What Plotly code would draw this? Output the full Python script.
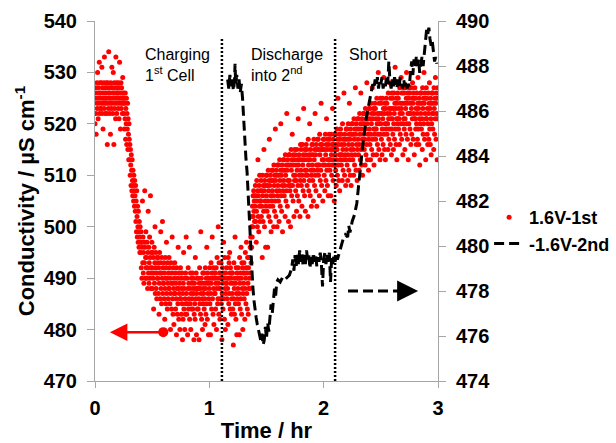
import plotly.graph_objects as go

# ---------------- data ----------------
# Conductivity of the 1st cell (left axis, µS cm-1), one reading every 0.0025 hr
red_time_step = 0.0025
red_values = [
    520, 525, 527, 522, 518, 526, 524, 528, 523, 530, 525, 521, 527, 524, 526, 532, 522, 528, 525, 523,
    526, 523, 528, 524, 531, 522, 527, 525, 519, 526, 524, 528, 523, 533, 525, 527, 522, 526, 524, 528,
    525, 522, 527, 516, 524, 528, 526, 523, 534, 525, 527, 522, 526, 524, 518, 528, 525, 523, 527, 531,
    524, 527, 522, 526, 530, 525, 516, 528, 523, 526, 524, 527, 521, 533, 525, 528, 522, 526, 524, 527,
    526, 523, 528, 525, 521, 527, 532, 524, 526, 519, 525, 528, 523, 527, 524, 526, 522, 529, 525, 524,
    526, 522, 525, 519, 524, 521, 526, 517, 523, 520, 525, 516, 522, 519, 524, 515, 521, 518, 513, 520,
    517, 513, 516, 510, 515, 512, 508, 514, 511, 507, 513, 509, 506, 511, 508, 505, 510, 507, 504, 509,
    506, 503, 508, 501, 505, 499, 507, 502, 498, 504, 500, 497, 503, 499, 496, 501, 498, 495, 500, 497,
    495, 499, 492, 497, 490, 496, 505, 493, 498, 491, 495, 489, 497, 493, 507, 496, 490, 494, 499, 492,
    494, 490, 497, 492, 488, 495, 503, 491, 496, 489, 493, 498, 490, 494, 506, 492, 488, 495, 491, 497,
    492, 488, 495, 490, 494, 484, 491, 496, 489, 493, 500, 487, 492, 495, 488, 491, 486, 494, 490, 493,
    490, 494, 487, 492, 483, 489, 495, 491, 486, 493, 499, 488, 491, 485, 494, 490, 501, 487, 492, 489,
    489, 493, 486, 491, 482, 488, 494, 490, 485, 492, 497, 487, 490, 484, 493, 489, 486, 491, 488, 494,
    488, 492, 485, 490, 480, 487, 493, 489, 484, 491, 498, 486, 489, 483, 492, 488, 481, 490, 487, 493,
    487, 491, 484, 489, 486, 479, 492, 488, 483, 490, 485, 496, 488, 482, 491, 487, 489, 480, 486, 492,
    486, 490, 483, 488, 491, 485, 478, 487, 482, 489, 495, 484, 488, 490, 480, 486, 483, 491, 485, 498,
    487, 483, 490, 485, 479, 488, 492, 484, 489, 486, 496, 482, 488, 485, 491, 480, 487, 490, 484, 489,
    486, 491, 484, 488, 490, 487, 478, 483, 489, 485, 482, 494, 488, 486, 491, 479, 487, 490, 484, 488,
    488, 484, 490, 486, 478, 489, 492, 485, 488, 483, 499, 487, 490, 482, 489, 486, 480, 491, 485, 488,
    487, 491, 484, 489, 486, 481, 492, 488, 483, 490, 485, 496, 489, 482, 491, 487, 490, 479, 486, 489,
    488, 492, 485, 490, 479, 487, 493, 489, 484, 491, 498, 486, 490, 483, 492, 488, 481, 491, 487, 490,
    487, 491, 484, 489, 492, 480, 488, 494, 490, 485, 486, 500, 489, 483, 493, 488, 491, 482, 486, 490,
    488, 493, 485, 490, 478, 487, 492, 489, 484, 491, 497, 486, 490, 482, 494, 488, 480, 491, 487, 489,
    489, 492, 486, 490, 488, 481, 494, 490, 485, 493, 487, 495, 491, 484, 492, 489, 490, 483, 486, 491,
    487, 491, 484, 489, 477, 486, 493, 488, 483, 490, 498, 485, 489, 482, 492, 487, 479, 491, 486, 490,
    488, 492, 485, 490, 487, 479, 494, 489, 484, 491, 486, 496, 490, 483, 493, 488, 492, 480, 487, 491,
    489, 493, 486, 491, 482, 488, 495, 490, 485, 492, 497, 487, 491, 484, 494, 489, 483, 492, 488, 494,
    490, 494, 488, 496, 491, 498, 493, 500, 496, 502, 498, 504, 500, 506, 502, 507, 503, 505, 501, 506,
    504, 508, 501, 506, 497, 503, 509, 505, 500, 507, 513, 502, 506, 499, 508, 504, 510, 501, 505, 507,
    505, 509, 502, 507, 504, 494, 510, 506, 501, 508, 503, 515, 507, 500, 509, 505, 508, 496, 504, 510,
    506, 510, 503, 508, 496, 505, 511, 507, 502, 509, 517, 504, 508, 501, 510, 506, 499, 509, 505, 511,
    507, 511, 504, 509, 506, 500, 512, 508, 503, 510, 505, 519, 509, 502, 511, 507, 510, 500, 506, 512,
    508, 512, 505, 510, 501, 507, 513, 509, 504, 511, 520, 506, 510, 503, 512, 508, 499, 511, 507, 513,
    509, 513, 506, 511, 508, 502, 514, 510, 505, 512, 507, 522, 511, 504, 513, 509, 512, 501, 508, 514,
    509, 514, 507, 512, 500, 508, 515, 511, 506, 513, 518, 508, 512, 505, 514, 510, 502, 513, 509, 515,
    510, 514, 507, 512, 509, 503, 515, 511, 506, 513, 508, 521, 512, 505, 514, 510, 513, 502, 509, 516,
    511, 515, 508, 513, 504, 510, 516, 512, 507, 514, 523, 509, 513, 506, 515, 511, 503, 514, 510, 516,
    511, 515, 508, 513, 510, 502, 517, 512, 507, 514, 509, 520, 513, 506, 515, 511, 514, 504, 510, 516,
    512, 516, 509, 514, 505, 511, 517, 513, 508, 515, 522, 510, 514, 507, 516, 512, 504, 515, 511, 517,
    512, 517, 510, 515, 512, 506, 518, 514, 509, 516, 511, 524, 515, 508, 516, 513, 515, 505, 512, 517,
    513, 517, 510, 515, 507, 512, 518, 514, 509, 516, 521, 511, 515, 508, 517, 513, 506, 516, 512, 518,
    513, 517, 511, 515, 513, 506, 518, 514, 510, 516, 512, 523, 515, 509, 517, 513, 516, 505, 512, 518,
    514, 518, 511, 516, 508, 513, 519, 515, 510, 517, 525, 512, 516, 509, 518, 514, 507, 517, 513, 519,
    514, 518, 512, 516, 514, 509, 520, 515, 511, 517, 513, 526, 516, 510, 518, 514, 517, 508, 513, 519,
    515, 519, 512, 517, 509, 514, 520, 516, 511, 518, 524, 513, 517, 510, 519, 515, 508, 518, 514, 520,
    516, 520, 513, 518, 515, 510, 521, 517, 512, 519, 514, 527, 518, 511, 520, 516, 519, 509, 515, 521,
    517, 521, 514, 519, 511, 516, 522, 518, 513, 520, 526, 515, 519, 512, 521, 517, 510, 520, 516, 522,
    518, 522, 515, 520, 517, 512, 523, 519, 514, 521, 516, 528, 520, 513, 522, 518, 521, 511, 517, 523,
    519, 523, 516, 521, 513, 518, 524, 520, 515, 522, 527, 517, 521, 514, 523, 519, 512, 522, 518, 524,
    519, 523, 517, 521, 519, 514, 525, 520, 516, 522, 518, 530, 521, 515, 524, 520, 522, 513, 518, 525,
    520, 524, 517, 522, 514, 519, 525, 521, 516, 523, 529, 518, 522, 515, 524, 520, 513, 523, 519, 525,
    520, 524, 518, 522, 520, 515, 526, 521, 517, 523, 519, 528, 522, 516, 525, 521, 523, 514, 519, 526,
    521, 525, 518, 523, 515, 520, 526, 522, 517, 524, 531, 519, 523, 516, 525, 521, 513, 524, 520, 526,
    521, 525, 519, 523, 521, 516, 527, 522, 518, 524, 520, 529, 523, 517, 526, 522, 524, 514, 520, 527,
    521, 526, 519, 524, 515, 521, 527, 523, 518, 525, 530, 520, 524, 517, 526, 522, 513, 525, 520, 527,
    522, 526, 519, 524, 522, 516, 527, 523, 518, 525, 521, 528, 524, 517, 526, 522, 525, 514, 521, 527,
    521, 525, 519, 523, 516, 520, 526, 522, 517, 524, 529, 519, 523, 516, 525, 521, 512, 524, 520, 526,
    522, 526, 519, 524, 521, 515, 527, 523, 518, 525, 520, 530, 524, 517, 526, 522, 525, 513, 521, 527,
    521, 525, 518, 523, 516, 520, 526, 522, 517, 524, 528, 519, 523, 516, 525, 521, 514, 524, 520, 526,
    522, 526, 519, 524, 522, 515, 527, 523, 518, 525, 521, 529, 524, 517, 526, 522, 525, 513, 521, 527,
]
red_time = [i * red_time_step for i in range(len(red_values))]

# Conductivity of the 2nd cell (right axis)
black_time = [
    1.16, 1.17, 1.18, 1.19, 1.20, 1.21, 1.22, 1.225, 1.23, 1.24, 1.25, 1.26, 1.27, 1.28,
    1.29, 1.30, 1.31, 1.32, 1.33, 1.34, 1.35, 1.36, 1.37, 1.38, 1.39, 1.40, 1.41, 1.42,
    1.43, 1.44, 1.45, 1.46, 1.47, 1.48, 1.49, 1.50, 1.51, 1.52, 1.53, 1.54, 1.55, 1.56,
    1.57, 1.58, 1.59, 1.60, 1.62, 1.64, 1.66, 1.68, 1.70, 1.72, 1.73, 1.74, 1.75, 1.76,
    1.77, 1.78, 1.79, 1.80, 1.81, 1.82, 1.83, 1.84, 1.85, 1.86, 1.87, 1.88, 1.89, 1.90,
    1.91, 1.92, 1.93, 1.94, 1.95, 1.96, 1.97, 1.98, 1.99, 2.00, 2.01, 2.02, 2.03, 2.04,
    2.05, 2.06, 2.07, 2.08, 2.09, 2.10, 2.11, 2.12, 2.13, 2.15, 2.17, 2.19, 2.21, 2.22,
    2.23, 2.25, 2.27, 2.29, 2.30, 2.31, 2.32, 2.33, 2.34, 2.35, 2.36, 2.37, 2.38, 2.39,
    2.40, 2.41, 2.42, 2.43, 2.44, 2.45,
    2.46, 2.47, 2.48, 2.49, 2.50, 2.51, 2.52, 2.53, 2.54, 2.55, 2.56, 2.57, 2.58, 2.59,
    2.60, 2.61, 2.62, 2.63, 2.64, 2.65, 2.66, 2.67, 2.68, 2.69, 2.70, 2.71, 2.72, 2.73,
    2.74,
    2.75, 2.76, 2.77, 2.78, 2.79, 2.80, 2.81, 2.82, 2.83, 2.84, 2.85, 2.86, 2.87, 2.88,
    2.89, 2.90, 2.91, 2.92, 2.93, 2.94, 2.95, 2.96, 2.97, 2.98, 2.99,
]
black_values = [
    487.4, 487.0, 487.6, 487.1, 487.5, 486.9, 487.3, 488.1, 487.2, 487.6, 487.0, 487.4, 486.8, 487.2,
    486.6, 485.6, 484.6, 483.9, 483.3, 482.2, 481.0, 480.1, 479.3, 478.2, 477.6, 477.1, 476.8, 476.5,
    476.2, 476.0, 475.8, 476.1, 475.6, 475.8, 476.4, 475.9, 476.6, 476.2, 476.9, 477.4, 477.0, 477.7,
    478.1, 477.8, 478.4, 478.5, 478.4, 478.6, 478.5, 478.6, 478.7, 479.0, 479.4, 478.9, 479.6, 479.1,
    479.7, 479.2, 479.8, 479.3, 479.7, 479.1, 479.6, 479.2, 479.8, 479.4, 479.6, 479.0, 479.5, 479.2,
    479.7, 479.3, 479.6, 479.1, 479.5, 479.3, 479.7, 479.2, 478.2, 479.4, 479.7, 479.2, 479.6, 479.3,
    479.7, 478.4, 479.5, 479.2, 479.6, 479.3, 479.7, 479.4, 479.6, 479.9, 480.3, 480.5, 480.4, 480.9,
    480.6, 481.1, 481.4, 481.9, 482.5, 482.9, 483.4, 483.9, 484.4, 484.9, 485.2, 485.6, 485.9, 486.2,
    486.5, 486.6, 486.9, 487.2, 487.0, 487.4,
    487.1, 487.5, 487.0, 487.4, 487.2, 487.5, 487.0, 487.3, 487.1, 487.5, 487.2, 488.2, 487.3, 487.0,
    487.4, 487.1, 487.5, 487.2, 487.0, 487.4, 487.1, 487.5, 487.2, 487.0, 487.4, 487.1, 487.3, 487.0,
    487.2,
    487.1, 487.8, 488.2, 487.6, 488.3, 487.9, 488.4, 488.0, 488.3, 487.7, 488.2, 488.4, 488.0, 488.5,
    489.2, 489.6, 489.4, 489.7, 489.2, 488.9, 489.1, 488.6, 488.2, 488.4, 488.1,
]
assert len(black_time) == len(black_values)

series_names = ["1.6V-1st", "-1.6V-2nd"]
x_ticks = [0, 1, 2, 3]
left_ticks = [470, 480, 490, 500, 510, 520, 530, 540]
right_ticks = [474, 476, 478, 480, 482, 484, 486, 488, 490]
phase_boundaries = [1.11, 2.10]   # hr
phase_labels = [
    (0.42, "Charging<br>1<sup>st</sup> Cell"),
    (1.345, "Discharge<br>into 2<sup>nd</sup>"),
    (2.205, "Short"),
]

# ---------------- figure ----------------
FONT = "Liberation Sans, Arial, sans-serif"
AXIS_GRAY = "#a6a6a6"

fig = go.Figure()
fig.add_trace(go.Scatter(
    x=red_time, y=red_values, mode="markers", name=series_names[0],
    marker=dict(color="#ff0000", size=5, line=dict(width=0)),
    yaxis="y",
))
fig.add_trace(go.Scatter(
    x=black_time, y=black_values, mode="lines", name=series_names[1],
    line=dict(color="black", width=3, dash="10px,5px"),
    yaxis="y2",
))

for xb in phase_boundaries:
    fig.add_shape(type="line", xref="x", yref="y", x0=xb, x1=xb, y0=470, y1=536.9,
                  line=dict(color="black", width=2.5, dash="2px,2px"))

for xl, txt in phase_labels:
    fig.add_annotation(x=xl, y=0.936, xref="x", yref="paper", text=txt, showarrow=False,
                       xanchor="left", yanchor="top", align="left",
                       font=dict(family=FONT, size=16, color="black"))

# red arrow pointing to the left axis
fig.add_annotation(x=0.13, y=479.5, ax=0.61, ay=479.5, xref="x", yref="y", axref="x", ayref="y",
                   text="", showarrow=True, arrowhead=2, arrowsize=1.4, arrowwidth=2.5,
                   arrowcolor="#ff0000", arrowside="end+start", startarrowhead=6,
                   startarrowsize=1.0, standoff=0, startstandoff=0)
# dashed black arrow pointing to the right axis
fig.add_shape(type="line", xref="x", yref="y2", x0=2.213, x1=2.74, y0=478.0, y1=478.0,
              line=dict(color="black", width=3, dash="10px,5px"))
fig.add_annotation(x=2.826, y=478.0, ax=2.73, ay=478.0, xref="x", yref="y2", axref="x", ayref="y2",
                   text="", showarrow=True, arrowhead=2, arrowsize=1.4, arrowwidth=3,
                   arrowcolor="black", standoff=0)

tickfont = dict(family=FONT, size=20, color="black", weight="bold")
fig.update_layout(
    width=616, height=443,
    margin=dict(l=95, r=178, t=21, b=62, autoexpand=False),
    paper_bgcolor="white", plot_bgcolor="white",
    font=dict(family=FONT, color="black"),
    showlegend=True,
    legend=dict(x=1.149, y=0.418, xanchor="left", yanchor="middle",
                font=dict(family=FONT, size=18, color="black", weight="bold"),
                bgcolor="rgba(0,0,0,0)", tracegroupgap=0),
    xaxis=dict(range=[0, 3], tickvals=x_ticks, ticks="outside", ticklen=6, tickcolor=AXIS_GRAY,
               showline=True, linecolor=AXIS_GRAY, linewidth=1, showgrid=False, zeroline=False,
               tickfont=tickfont, ticklabelstandoff=3, automargin=False,
               title=dict(text="Time / hr", font=dict(family=FONT, size=22, color="black", weight="bold"),
                          standoff=8)),
    yaxis=dict(range=[470, 540], tickvals=left_ticks, ticks="outside", ticklen=7, tickcolor=AXIS_GRAY,
               showline=True, linecolor=AXIS_GRAY, linewidth=1, showgrid=False, zeroline=False,
               tickfont=tickfont, ticklabelstandoff=6, automargin=False,
               title=dict(text="Conductivity / µS cm<sup>-1</sup>",
                          font=dict(family=FONT, size=22, color="black", weight="bold"), standoff=2)),
    yaxis2=dict(range=[474, 490], tickvals=right_ticks, overlaying="y", side="right",
                ticks="outside", ticklen=7, tickcolor=AXIS_GRAY,
                showline=True, linecolor=AXIS_GRAY, linewidth=1, showgrid=False, zeroline=False,
                tickfont=tickfont, ticklabelstandoff=6, automargin=False),
)

# the page's default body margin would shift the figure; remove it
fig.write_html("out.html", config={"displayModeBar": False},
               post_script="document.body.style.margin='0';")
